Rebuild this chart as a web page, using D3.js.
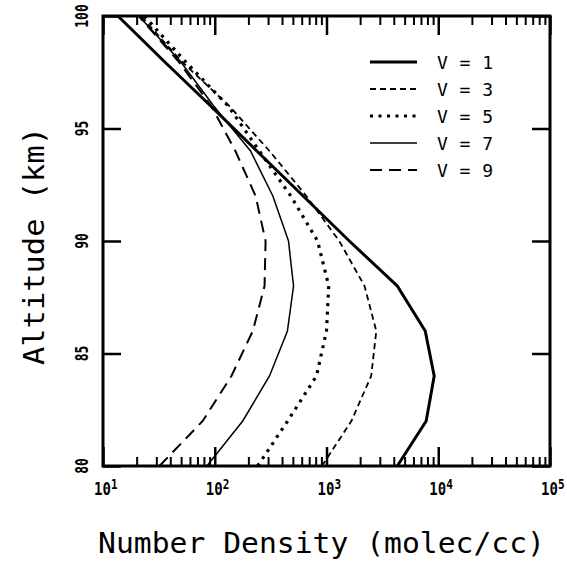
<!DOCTYPE html>
<html>
<head>
<meta charset="utf-8">
<script src="https://cdn.jsdelivr.net/npm/d3@7"></script>
<style>
  body { margin: 0; background: #fff; }
  text { font-family: "DejaVu Sans Mono", monospace; fill: #000; }
</style>
</head>
<body>
<div id="container"></div>
<script>
// altitude grid (km)
const altitudes = [80, 82, 84, 86, 88, 90, 92, 94, 96, 98, 100];
// number density (molec/cc) for each vibrational level
const v1 = [4300, 7800, 9200, 7650, 4300, 1600, 618, 238, 92, 35, 13.6];
const v3 = [910, 1670, 2510, 2790, 2190, 1300, 660, 309, 135, 50, 21.9];
const v5 = [242, 449, 813, 1000, 1047, 832, 479, 251, 132, 54, 23.4];
const v7 = [85, 178, 309, 447, 507, 457, 331, 209, 98, 49, 20.9];
const v9 = [32, 78, 141, 219, 279, 285, 232, 153, 93, 47, 20.9];
const seriesNames = ["V = 1", "V = 3", "V = 5", "V = 7", "V = 9"];
const xMajor = [1e1, 1e2, 1e3, 1e4, 1e5];
const xExp = ["1", "2", "3", "4", "5"];
const yTicks = [80, 85, 90, 95, 100];

const W = 567, H = 564;
const mLeft = 103, mRight = 550, mTop = 16, mBottom = 466;

const svg = d3.select("#container").append("svg")
  .attr("width", W).attr("height", H);

const x = d3.scaleLog().domain([10, 1e5]).range([mLeft, mRight]);
const y = d3.scaleLinear().domain([80, 100]).range([mBottom, mTop]);

// minor ticks 2..9 per decade
const xMinor = [];
for (let d = 1; d < 5; d++) for (let k = 2; k <= 9; k++) xMinor.push(k * Math.pow(10, d));

function styleAxis(g, w) {
  g.select(".domain").remove();
  g.selectAll(".tick line").attr("stroke", "#000").attr("stroke-width", w);
  g.selectAll(".tick text").remove();
}

svg.append("g").attr("transform", `translate(0,${mBottom})`)
  .call(d3.axisBottom(x).tickValues(xMinor).tickSize(-9)).call(g => styleAxis(g, 2));
svg.append("g").attr("transform", `translate(0,${mBottom})`)
  .call(d3.axisBottom(x).tickValues(xMajor).tickSize(-19)).call(g => styleAxis(g, 2.5));
svg.append("g").attr("transform", `translate(0,${mTop})`)
  .call(d3.axisTop(x).tickValues(xMinor).tickSize(-9)).call(g => styleAxis(g, 2));
svg.append("g").attr("transform", `translate(0,${mTop})`)
  .call(d3.axisTop(x).tickValues(xMajor).tickSize(-19)).call(g => styleAxis(g, 2.5));
svg.append("g").attr("transform", `translate(${mLeft},0)`)
  .call(d3.axisLeft(y).tickValues(yTicks).tickSize(-18)).call(g => styleAxis(g, 2.5));
svg.append("g").attr("transform", `translate(${mRight},0)`)
  .call(d3.axisRight(y).tickValues(yTicks).tickSize(-18)).call(g => styleAxis(g, 2.5));

// frame
svg.append("rect")
  .attr("x", mLeft).attr("y", mTop)
  .attr("width", mRight - mLeft).attr("height", mBottom - mTop)
  .attr("fill", "none").attr("stroke", "#000").attr("stroke-width", 3);

// x tick labels: 10 with superscript exponent
const xl = svg.append("g").selectAll("g").data(xMajor).join("g")
  .attr("transform", d => `translate(${x(d) - 9},495) scale(1,1.3)`);
xl.append("text").attr("font-size", 14).attr("font-weight", "bold").text("10");
xl.append("text").attr("x", 17).attr("y", -5).attr("font-size", 11)
  .attr("font-weight", "bold").text((d, i) => xExp[i]);

// y tick labels rotated
svg.append("g").selectAll("text").data(yTicks).join("text")
  .attr("transform", d => `translate(88,${y(d)}) rotate(-90) scale(1,1.3)`)
  .attr("text-anchor", "middle").attr("font-size", 13).attr("font-weight", "bold")
  .text(d => d);

// axis titles
svg.append("text").attr("x", 98).attr("y", 553)
  .attr("font-size", 28).attr("textLength", 447).attr("lengthAdjust", "spacingAndGlyphs")
  .text("Number Density (molec/cc)");
svg.append("text")
  .attr("transform", "translate(44,246) rotate(-90)")
  .attr("text-anchor", "middle").attr("font-size", 28)
  .attr("textLength", 238).attr("lengthAdjust", "spacingAndGlyphs")
  .text("Altitude (km)");

// curves
const styles = [
  { w: 3, dash: null },
  { w: 1.8, dash: "6,4" },
  { w: 3.2, dash: "3,5.5" },
  { w: 1.5, dash: null },
  { w: 2, dash: "12,7" }
];
const allSeries = [v1, v3, v5, v7, v9];
const line = d3.line().x(d => x(d[0])).y(d => y(d[1]));

svg.append("g").selectAll("path").data(allSeries).join("path")
  .attr("d", s => line(s.map((v, i) => [v, altitudes[i]])))
  .attr("fill", "none").attr("stroke", "#000")
  .attr("stroke-width", (d, i) => styles[i].w)
  .attr("stroke-dasharray", (d, i) => styles[i].dash);

// legend
const leg = svg.append("g").selectAll("g").data(seriesNames).join("g")
  .attr("transform", (d, i) => `translate(370,${62 + i * 27})`);
leg.append("line").attr("x1", 0).attr("x2", 47).attr("y1", 0).attr("y2", 0)
  .attr("stroke", "#000")
  .attr("stroke-width", (d, i) => styles[i].w)
  .attr("stroke-dasharray", (d, i) => styles[i].dash);
leg.append("text").attr("x", 67).attr("y", 7).attr("font-size", 18)
  .attr("textLength", 56).attr("lengthAdjust", "spacing")
  .text(d => d);
</script>
</body>
</html>
